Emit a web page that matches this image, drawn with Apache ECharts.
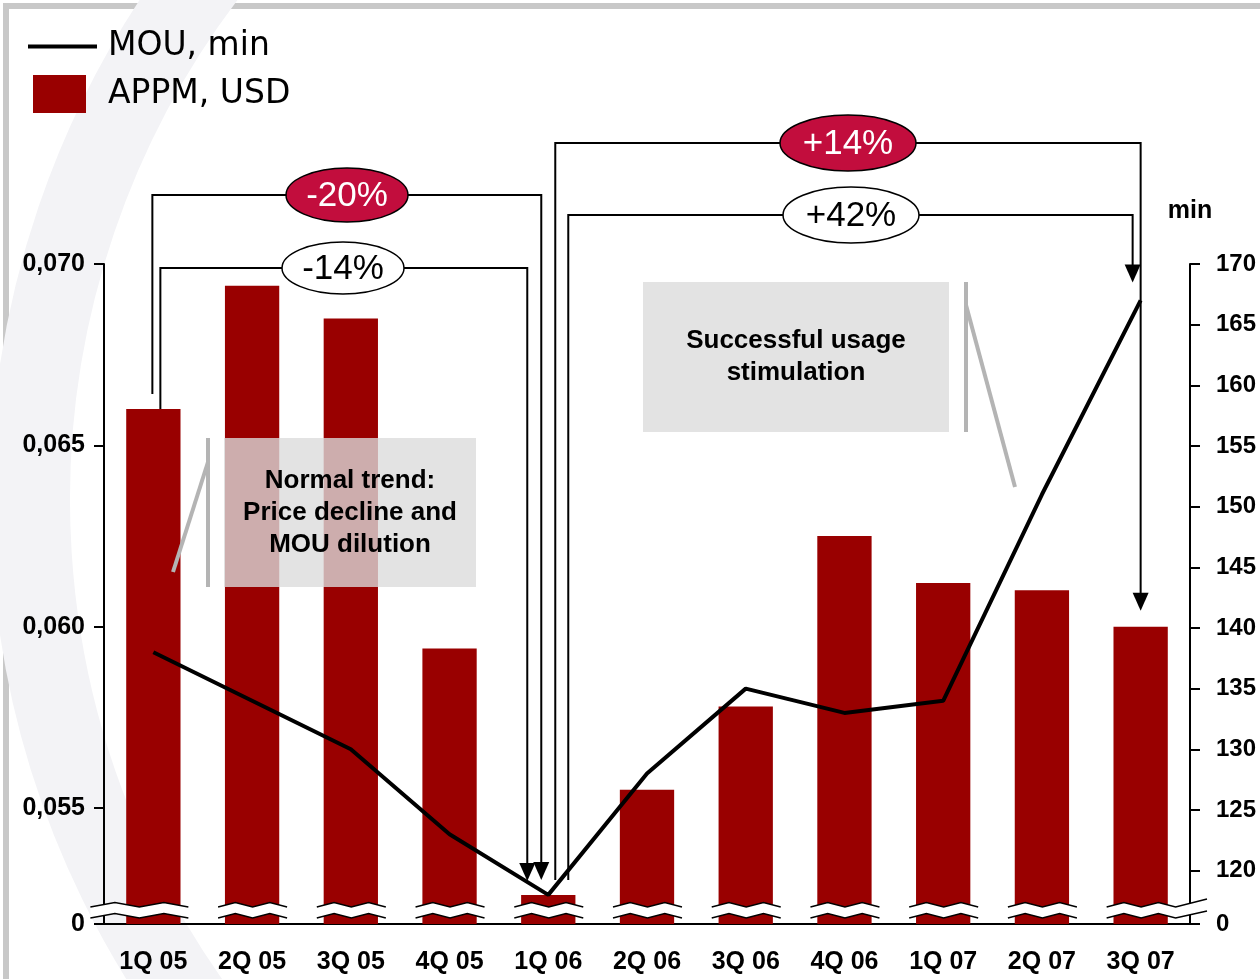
<!DOCTYPE html>
<html>
<head>
<meta charset="utf-8">
<script src="https://cdn.jsdelivr.net/npm/echarts@6/dist/echarts.min.js"></script>
<style>
  html, body { margin: 0; padding: 0; background: #fff; }
  #main { width: 1260px; height: 979px; }
</style>
</head>
<body>
<div id="main"></div>
<script>
var quarters = ['1Q 05', '2Q 05', '3Q 05', '4Q 05', '1Q 06', '2Q 06', '3Q 06', '4Q 06', '1Q 07', '2Q 07', '3Q 07'];
var appm = [0.0660, 0.0694, 0.0685, 0.0594, 0.0526, 0.0555, 0.0578, 0.0625, 0.0612, 0.0610, 0.0600];
var mou = [138, 134, 130, 123, 118, 128, 135, 133, 134, 151, 167];
// first tick of each axis sits at the break and is shown as "0"
var appmTicks = [0.0518, 0.055, 0.060, 0.065, 0.070];
var mouTicks = [115.6, 120, 125, 130, 135, 140, 145, 150, 155, 160, 165, 170];

var FONT = '"Liberation Sans", Arial, sans-serif';
var LEGEND_FONT = '"DejaVu Sans", sans-serif';
var RED = '#990000';
var BADGE_RED = '#c20d3d';

var chart = echarts.init(document.getElementById('main'), null, { renderer: 'canvas' });

var option = {
  backgroundColor: '#fff',
  animation: false,
  textStyle: { fontFamily: FONT },
  legend: [{
    data: [{ name: 'MOU, min', icon: 'path://M0,0H69V4H0Z' }],
    left: 28,
    top: 30,
    padding: 0,
    itemWidth: 69,
    itemHeight: 4,
    selectedMode: false,
    itemStyle: { color: '#000' },
    textStyle: { fontFamily: LEGEND_FONT, fontSize: 33, color: '#000', padding: [0, 0, 0, 6] }
  }, {
    data: [{ name: 'APPM, USD', icon: 'rect' }],
    left: 33,
    top: 75,
    padding: 0,
    itemWidth: 53,
    itemHeight: 38,
    selectedMode: false,
    textStyle: { fontFamily: LEGEND_FONT, fontSize: 33, color: '#000', padding: [0, 0, 0, 17] }
  }],
  grid: {
    left: 104,
    right: 70,
    top: 264,
    bottom: 55
  },
  xAxis: {
    type: 'category',
    data: quarters,
    axisLine: { lineStyle: { color: '#000', width: 2 } },
    axisTick: { show: false },
    axisLabel: { color: '#000', fontSize: 25, fontWeight: 'bold', fontFamily: FONT, margin: 26 }
  },
  yAxis: [{
    type: 'value',
    position: 'left',
    min: appmTicks[0],
    max: appmTicks[appmTicks.length - 1],
    startValue: appmTicks[0],
    splitLine: { show: false },
    axisLine: { show: true, lineStyle: { color: '#000', width: 2 } },
    axisTick: { show: true, length: 10, lineStyle: { color: '#000', width: 2 }, customValues: appmTicks },
    axisLabel: {
      customValues: appmTicks,
      color: '#000', fontSize: 25, fontWeight: 'bold', fontFamily: FONT, margin: 19,
      formatter: function (v) { return v < 0.052 ? '0' : v.toFixed(3).replace('.', ','); }
    }
  }, {
    type: 'value',
    position: 'right',
    min: mouTicks[0],
    max: mouTicks[mouTicks.length - 1],
    name: 'min',
    nameLocation: 'end',
    nameGap: 40,
    nameTextStyle: { color: '#000', fontSize: 25, fontWeight: 'bold', fontFamily: FONT },
    splitLine: { show: false },
    axisLine: { show: true, lineStyle: { color: '#000', width: 2 } },
    axisTick: { show: true, length: 10, lineStyle: { color: '#000', width: 2 }, customValues: mouTicks },
    axisLabel: {
      customValues: mouTicks,
      color: '#000', fontSize: 24, fontWeight: 'bold', fontFamily: FONT, margin: 26,
      formatter: function (v) { return v < 116 ? '0' : String(v); }
    }
  }],
  series: [{
    name: 'APPM, USD',
    type: 'bar',
    yAxisIndex: 0,
    data: appm,
    barWidth: '55%',
    clip: true,
    itemStyle: { color: RED },
    z: 2
  }, {
    name: 'MOU, min',
    type: 'line',
    yAxisIndex: 1,
    data: mou,
    symbol: 'none',
    lineStyle: { color: '#000', width: 4 },
    itemStyle: { color: '#000' },
    z: 5
  }]
};

chart.setOption(option);

// ---- annotations (breaks, brackets, notes) placed from the chart's own scales
function barPt(i) { return chart.convertToPixel({ seriesIndex: 0 }, [i, appm[i]]); }
function mouPt(i) { return chart.convertToPixel({ seriesIndex: 1 }, [i, mou[i]]); }

var yBase = chart.convertToPixel({ seriesIndex: 0 }, [0, appmTicks[0]])[1];
var axisX = chart.convertToPixel({ seriesIndex: 0 }, [0, appmTicks[0]])[0] - 49;
var gridRight = chart.getWidth() - 70;

var graphics = [];

// frame and faint background swoosh
graphics.push({
  type: 'rect', z: -10, silent: true,
  shape: { x: 6, y: 6, width: 1400, height: 1100 },
  style: { fill: null, stroke: '#c8c8c8', lineWidth: 6 }
});
graphics.push({
  type: 'arc', z: -9, silent: true,
  shape: { cx: 900, cy: 500, r: 870, startAngle: Math.PI * 0.74, endAngle: Math.PI * 1.22 },
  style: { fill: null, stroke: '#f3f3f6', lineWidth: 80 }
});

function zig(x0, x1, yValley, amp) {
  var w = x1 - x0;
  return [[x0, yValley], [x0 + w / 4, yValley - amp], [x0 + w / 2, yValley], [x0 + 3 * w / 4, yValley - amp], [x1, yValley]];
}

quarters.forEach(function (q, i) {
  var cx = barPt(i)[0];
  var x0 = i === 0 ? axisX - 14 : cx - 34;
  var x1 = cx + 35;
  var up = zig(x0, x1, yBase - 17, 4.5);
  var lo = zig(x0, x1, yBase - 6, 4.5);
  if (i === quarters.length - 1) {
    up.push([gridRight + 17, yBase - 25]);
    lo.push([gridRight + 17, yBase - 13]);
  }
  graphics.push({
    type: 'polygon', z: 20, silent: true,
    shape: { points: up.concat(lo.slice().reverse()) },
    style: { fill: '#fff', stroke: null }
  });
  graphics.push({ type: 'polyline', z: 21, silent: true, shape: { points: up }, style: { stroke: '#000', lineWidth: 1.5, fill: null } });
  graphics.push({ type: 'polyline', z: 21, silent: true, shape: { points: lo }, style: { stroke: '#000', lineWidth: 1.5, fill: null } });
});

// brackets with arrow heads and badges
function bracket(xa, ya, xb, yb, yTop) {
  graphics.push({
    type: 'polyline', z: 30, silent: true,
    shape: { points: [[xa, ya], [xa, yTop], [xb, yTop], [xb, yb - 17]] },
    style: { stroke: '#000', lineWidth: 2, fill: null }
  });
  graphics.push({
    type: 'polygon', z: 30, silent: true,
    shape: { points: [[xb, yb], [xb - 8, yb - 18], [xb + 8, yb - 18]] },
    style: { fill: '#000' }
  });
}
function badge(cx, cy, rx, ry, txt, filled) {
  graphics.push({
    type: 'ellipse', z: 31, silent: true,
    shape: { cx: cx, cy: cy, rx: rx, ry: ry },
    style: { fill: filled ? BADGE_RED : '#fff', stroke: '#000', lineWidth: 1.5 }
  });
  graphics.push({
    type: 'text', z: 32, silent: true,
    style: { text: txt, x: cx, y: cy + 1, align: 'center', verticalAlign: 'middle', fill: filled ? '#fff' : '#000', font: '35px ' + FONT }
  });
}

var b0 = barPt(0), b4 = barPt(4), m4 = mouPt(4), b10 = barPt(10), m10 = mouPt(10);

bracket(b0[0] - 1, b0[1] - 15, b4[0] - 7, b4[1] - 15, 195);
bracket(b0[0] + 7, b0[1], b4[0] - 21, m4[1] - 14, 268);
bracket(b4[0] + 7, b4[1] - 15, b10[0], b10[1] - 16, 143);
bracket(b4[0] + 20, b4[1] - 15, m10[0] - 8, m10[1] - 18, 215);

badge(347, 195, 61, 27, '-20%', true);
badge(343, 268, 61, 26, '-14%', false);
badge(848, 143, 68, 28, '+14%', true);
badge(851, 215, 68, 28, '+42%', false);

// note boxes with grey callout marks
function note(x, y, w, h, lines, fill) {
  graphics.push({
    type: 'rect', z: 12, silent: true,
    shape: { x: x, y: y, width: w, height: h },
    style: { fill: fill }
  });
  graphics.push({
    type: 'text', z: 13, silent: true,
    style: { text: lines.join('\n'), x: x + w / 2, y: y + h / 2, align: 'center', verticalAlign: 'middle', lineHeight: 32, fill: '#000', font: 'bold 26px ' + FONT }
  });
}
note(224, 438, 252, 149, ['Normal trend:', 'Price decline and', 'MOU dilution'], 'rgba(220,220,220,0.79)');
note(643, 282, 306, 150, ['Successful usage', 'stimulation'], '#e3e3e3');

function greyLine(pts) {
  graphics.push({
    type: 'polyline', z: 12, silent: true,
    shape: { points: pts },
    style: { stroke: '#b4b4b4', lineWidth: 4, fill: null }
  });
}
greyLine([[208, 438], [208, 587]]);
greyLine([[208, 462], [173, 572]]);
greyLine([[966, 282], [966, 432]]);
greyLine([[966, 305], [1015, 487]]);

chart.setOption({ graphic: graphics });
</script>
</body>
</html>
